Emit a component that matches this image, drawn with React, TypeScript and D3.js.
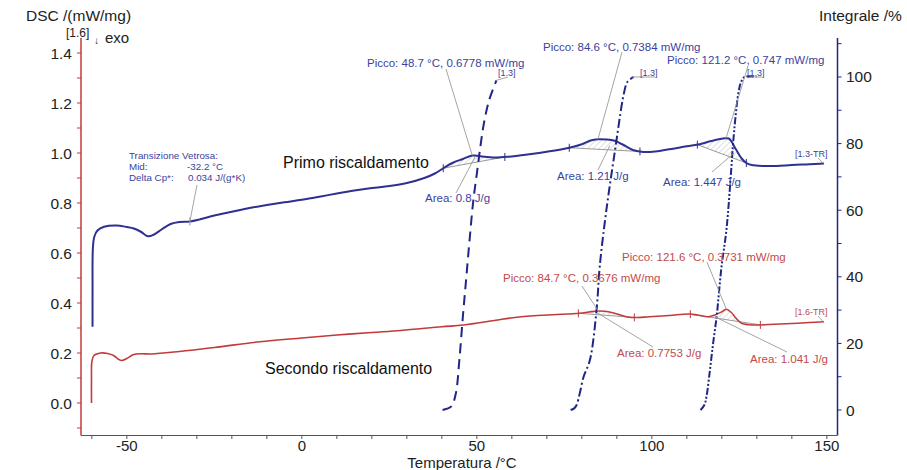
import React from "react";
import * as d3 from "d3";

// temperature (°C), DSC (mW/mg)
const primoT = [-59.8, -59.8, -59.7, -59.3, -58.4, -56.5, -53, -50, -48, -46, -44, -42.5, -40, -37.5, -35, -32, -29, -25, -20, -15, -10, -5, 0, 5, 10, 15, 20, 25, 30, 35, 38, 40.5, 43, 46, 48.7, 51, 55, 59, 65, 70, 76.4, 80, 82.5, 84.6, 87, 89.4, 91.5, 94.6, 97, 100.3, 105, 110, 113.7, 117, 120.9, 122, 122.8, 124, 125.6, 127, 128.5, 132, 135.6, 140, 145, 149.2];
const primoDSC = [0.305, 0.45, 0.62, 0.665, 0.69, 0.705, 0.71, 0.704, 0.698, 0.685, 0.667, 0.672, 0.695, 0.716, 0.724, 0.726, 0.735, 0.75, 0.765, 0.78, 0.792, 0.803, 0.813, 0.825, 0.838, 0.85, 0.86, 0.868, 0.88, 0.9, 0.918, 0.94, 0.96, 0.976, 0.99, 0.987, 0.982, 0.985, 0.995, 1.005, 1.021, 1.035, 1.05, 1.055, 1.054, 1.049, 1.035, 1.012, 1.005, 1.005, 1.015, 1.027, 1.035, 1.048, 1.059, 1.058, 1.045, 1.015, 0.979, 0.96, 0.952, 0.948, 0.948, 0.952, 0.955, 0.958];

const secondoT = [-60.1, -60.1, -60, -59.4, -57.5, -55.5, -53.8, -52.5, -51.5, -50, -48.2, -46, -43, -35, -25, -12, 0, 10, 20, 28.3, 40, 46.2, 55, 61.4, 70, 79.3, 82, 84.5, 86.5, 88.8, 91, 93.5, 96, 99.2, 105, 110.5, 113, 116.1, 118, 120, 121.3, 122.7, 124, 125.6, 127.5, 130.3, 135, 140, 145, 149.2];
const secondoDSC = [0.0, 0.1, 0.165, 0.19, 0.2, 0.198, 0.19, 0.176, 0.17, 0.178, 0.193, 0.197, 0.196, 0.206, 0.222, 0.245, 0.26, 0.272, 0.282, 0.29, 0.305, 0.312, 0.33, 0.343, 0.352, 0.359, 0.364, 0.368, 0.367, 0.361, 0.352, 0.343, 0.342, 0.345, 0.35, 0.356, 0.352, 0.345, 0.352, 0.365, 0.375, 0.362, 0.34, 0.319, 0.313, 0.312, 0.315, 0.318, 0.322, 0.325];

// integrals (%)
const int1T = [40.2, 41.5, 42.8, 44, 45, 46, 47, 48, 49, 50, 51, 52, 53.5, 55.6];
const int1V = [0, 0.4, 1.2, 5, 15, 28, 40, 52, 63, 71, 79, 86, 93, 99];
const int2T = [76.8, 77.8, 78.5, 79.4, 80.5, 82.3, 84.2, 85.1, 87, 89.9, 91.3, 92, 93, 94.8];
const int2V = [0, 0.5, 1.5, 5, 10, 15, 30, 43, 60, 81, 91, 95, 98.5, 100];
const int3T = [113.9, 115, 115.6, 116.6, 117.5, 118.5, 119.9, 121.3, 122.8, 123.2, 124.7, 125.5, 126.5, 129.9];
const int3V = [0, 1.5, 4, 12, 20, 28, 43, 54, 74, 80, 95, 98.5, 100, 100];

// integration limits (°C)
const primoLimits = [[40.4, 58], [76.4, 96.6], [113, 127]];
const secondoLimits = [[79, 95], [111, 131]];

const xTicks = [-50, 0, 50, 100, 150];
const leftTicks = [0.0, 0.2, 0.4, 0.6, 0.8, 1.0, 1.2, 1.4];
const rightTicks = [0, 20, 40, 60, 80, 100];

const BLUE = "#2d3190";
const NAVY = "#1f2685";
const RED = "#c23b3b";
const BTXT = "#3b3f9e";
const RTXT = "#c24a4a";
const GREY = "#9a9a9a";
const FONT = "'Liberation Sans', Arial, sans-serif";

const x = d3.scaleLinear().domain([-63.1, 152.9]).range([81, 837]);
const yL = d3.scaleLinear().domain([-0.13, 1.46]).range([435.5, 38]);
const yR = d3.scaleLinear().domain([-7.65, 111.7]).range([435.5, 38]);

type P = [number, number];
const zip = (a: number[], b: number[]): P[] => a.map((t, i) => [t, b[i]]);

const primo = zip(primoT, primoDSC);
const secondo = zip(secondoT, secondoDSC);

const interp = (pts: P[], t: number) => {
  for (let i = 1; i < pts.length; i++) {
    const [t0, v0] = pts[i - 1];
    const [t1, v1] = pts[i];
    if (t >= t0 && t <= t1 && t1 > t0) return v0 + ((t - t0) / (t1 - t0)) * (v1 - v0);
  }
  return pts[pts.length - 1][1];
};

const dscLine = d3
  .line<P>()
  .x((d) => x(d[0]))
  .y((d) => yL(d[1]))
  .curve(d3.curveCatmullRom.alpha(0.5));
const intLine = d3
  .line<P>()
  .x((d) => x(d[0]))
  .y((d) => yR(d[1]))
  .curve(d3.curveCatmullRom.alpha(0.5));

function Hatch({ pts, limits, color }: { pts: P[]; limits: number[][]; color: string }) {
  return (
    <g>
      {limits.map(([a, b], i) => {
        const inner = pts.filter((p) => p[0] > a && p[0] < b);
        const poly: P[] = [[a, interp(pts, a)], ...inner, [b, interp(pts, b)]];
        const path = "M" + poly.map((p) => `${x(p[0])},${yL(p[1])}`).join("L") + "Z";
        return (
          <g key={i}>
            <path d={path} fill="url(#hatch)" stroke="none" />
            <line x1={x(a)} y1={yL(interp(pts, a))} x2={x(b)} y2={yL(interp(pts, b))} stroke={GREY} strokeWidth={1} />
            {[a, b].map((t) => (
              <line key={t} x1={x(t)} x2={x(t)} y1={yL(interp(pts, t)) - 4} y2={yL(interp(pts, t)) + 4} stroke={color} strokeWidth={1} />
            ))}
          </g>
        );
      })}
    </g>
  );
}

const Txt = ({ x: tx, y: ty, c, s = 11.5, children }: any) => (
  <text x={tx} y={ty} fill={c} fontSize={s} fontFamily={FONT}>
    {children}
  </text>
);

export default function App() {
  const lMinor = d3.range(-0.1, 1.45, 0.1);
  const rMinor = d3.range(0, 111, 10);
  const xMinor = d3.range(-60, 151, 10);
  return (
    <svg width={907} height={470} style={{ position: "absolute", left: 0, top: 0, background: "#fff" }}>
      <defs>
        <pattern id="hatch" width="4" height="4" patternUnits="userSpaceOnUse" patternTransform="rotate(45)">
          <line x1="0" y1="0" x2="0" y2="4" stroke="#b0b0b0" strokeWidth="0.8" />
        </pattern>
      </defs>

      {/* axes */}
      <line x1={81} x2={837} y1={435.5} y2={435.5} stroke="#555" strokeWidth={1.2} />
      {xMinor.map((t) => (
        <line key={t} x1={x(t)} x2={x(t)} y1={435.5} y2={439} stroke="#555" />
      ))}
      {xTicks.map((t) => (
        <text key={t} x={x(t)} y={451} textAnchor="middle" fontSize={15} fontFamily={FONT} fill="#222">
          {t}
        </text>
      ))}
      <text x={462} y={468} textAnchor="middle" fontSize={15} fontFamily={FONT} fill="#222">
        Temperatura /°C
      </text>

      <line x1={81} x2={81} y1={38} y2={435.5} stroke={RED} strokeWidth={1.5} />
      {lMinor.map((v) => (
        <line key={v} x1={77} x2={81} y1={yL(v)} y2={yL(v)} stroke={RED} />
      ))}
      {leftTicks.map((v) => (
        <text key={v} x={72} y={yL(v) + 5.5} textAnchor="end" fontSize={15.5} fontFamily={FONT} fill="#222">
          {v.toFixed(1)}
        </text>
      ))}

      <line x1={837.5} x2={837.5} y1={38} y2={435.5} stroke={NAVY} strokeWidth={1.5} />
      {rMinor.map((v) => (
        <line key={v} x1={837.5} x2={841.5} y1={yR(v)} y2={yR(v)} stroke={NAVY} />
      ))}
      {rightTicks.map((v) => (
        <text key={v} x={846} y={yR(v) + 5.5} fontSize={15.5} fontFamily={FONT} fill="#222">
          {v}
        </text>
      ))}

      <text x={26} y={21} fontSize={15.5} fontFamily={FONT} fill="#222">DSC /(mW/mg)</text>
      <text x={66} y={37} fontSize={12} fontFamily={FONT} fill="#222">[1.6]</text>
      <text x={94} y={44} fontSize={10} fontFamily={FONT} fill="#222">↓</text>
      <text x={105} y={43} fontSize={15} fontFamily={FONT} fill="#222">exo</text>
      <text x={819} y={21} fontSize={15.5} fontFamily={FONT} fill="#222">Integrale /%</text>

      {/* peak areas */}
      <Hatch pts={primo} limits={primoLimits} color={BLUE} />
      <Hatch pts={secondo} limits={secondoLimits} color={RED} />

      {/* DSC curves */}
      <path d={dscLine(primo) || ""} fill="none" stroke={BLUE} strokeWidth={2} />
      <path d={dscLine(secondo) || ""} fill="none" stroke={RED} strokeWidth={1.6} />
      <line x1={x(-32)} x2={x(-32)} y1={yL(interp(primo, -32)) - 4} y2={yL(interp(primo, -32)) + 4} stroke={GREY} />

      {/* integrals */}
      <path d={intLine(zip(int1T, int1V)) || ""} fill="none" stroke={NAVY} strokeWidth={2} strokeDasharray="10,6" />
      <path d={intLine(zip(int2T, int2V)) || ""} fill="none" stroke={NAVY} strokeWidth={2} strokeDasharray="9,3,2,3" />
      <path d={intLine(zip(int3T, int3V)) || ""} fill="none" stroke={NAVY} strokeWidth={2} strokeDasharray="7,2,2,2,2,2" />

      {/* leader lines */}
      <g stroke={GREY} strokeWidth={0.9}>
        <line x1={197} y1={185} x2={x(-32)} y2={yL(interp(primo, -32))} />
        <line x1={446} y1={69} x2={x(48.7)} y2={yL(0.99)} />
        <line x1={456} y1={193} x2={x(49.5)} y2={yL(0.985)} />
        <line x1={622} y1={52} x2={x(84.6)} y2={yL(1.055)} />
        <line x1={598} y1={170} x2={x(88)} y2={yL(1.03)} />
        <line x1={748} y1={66} x2={x(121.2)} y2={yL(1.059)} />
        <line x1={712} y1={172} x2={x(123.5)} y2={yL(1.0)} />
        <line x1={508} y1={77} x2={x(55.6)} y2={yR(99)} />
        <line x1={655} y1={77} x2={x(94.2)} y2={yR(100)} />
        <line x1={762} y1={77} x2={x(128)} y2={yR(100)} />
        <line x1={818} y1={158} x2={x(149)} y2={yL(interp(primo, 149))} />
        <line x1={582} y1={286} x2={x(84.7)} y2={yL(0.368)} />
        <line x1={653} y1={347} x2={x(84.5)} y2={yL(0.36)} />
        <line x1={707} y1={262} x2={x(121.3)} y2={yL(0.375)} />
        <line x1={787} y1={352} x2={x(118)} y2={yL(0.345)} />
        <line x1={818} y1={316} x2={x(149)} y2={yL(interp(secondo, 149))} />
      </g>

      {/* annotations */}
      <Txt x={129} y={159} c={BTXT} s={9.8}>Transizione Vetrosa:</Txt>
      <Txt x={129} y={170} c={BTXT} s={9.8}>Mid:</Txt>
      <Txt x={187} y={170} c={BTXT} s={9.8}>-32.2 °C</Txt>
      <Txt x={129} y={181} c={BTXT} s={9.8}>Delta Cp*:</Txt>
      <Txt x={188} y={181} c={BTXT} s={9.8}>0.034 J/(g*K)</Txt>
      <Txt x={283} y={168} c="#111" s={16}>Primo  riscaldamento</Txt>
      <Txt x={265} y={374} c="#111" s={16}>Secondo riscaldamento</Txt>
      <Txt x={367} y={67} c={BTXT}>Picco: 48.7 °C, 0.6778 mW/mg</Txt>
      <Txt x={543} y={51} c={BTXT}>Picco: 84.6 °C, 0.7384 mW/mg</Txt>
      <Txt x={667} y={64} c={BTXT}>Picco: 121.2 °C, 0.747 mW/mg</Txt>
      <Txt x={498} y={76} c={BTXT} s={9}>[1.3]</Txt>
      <Txt x={640} y={76} c={BTXT} s={9}>[1.3]</Txt>
      <Txt x={747} y={76} c={BTXT} s={9}>[1.3]</Txt>
      <Txt x={795} y={157} c={BTXT} s={9}>[1.3-TR]</Txt>
      <Txt x={425} y={202} c={BTXT}>Area: 0.8  J/g</Txt>
      <Txt x={557} y={180} c={BTXT}>Area: 1.21  J/g</Txt>
      <Txt x={663} y={186} c={BTXT}>Area: 1.447 J/g</Txt>
      <Txt x={622} y={261} c={RTXT}>Picco: 121.6 °C, 0.3731 mW/mg</Txt>
      <Txt x={503} y={282} c={RTXT}>Picco: 84.7 °C, 0.3676 mW/mg</Txt>
      <Txt x={795} y={315} c={RTXT} s={9}>[1.6-TR]</Txt>
      <Txt x={617} y={357} c={RTXT}>Area: 0.7753 J/g</Txt>
      <Txt x={750} y={363} c={RTXT}>Area: 1.041 J/g</Txt>
    </svg>
  );
}
